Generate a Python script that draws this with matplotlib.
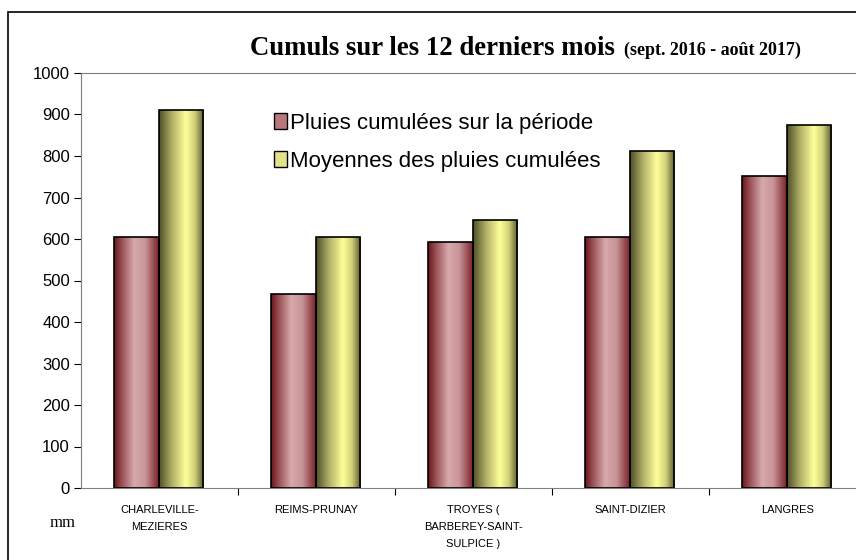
import numpy as np
import matplotlib
matplotlib.use("Agg")
import matplotlib.pyplot as plt
from matplotlib.colors import LinearSegmentedColormap
from matplotlib.patches import Patch, Rectangle

stations = ["CHARLEVILLE-\nMEZIERES", "REIMS-PRUNAY", "TROYES (\nBARBEREY-SAINT-\nSULPICE )",
            "SAINT-DIZIER", "LANGRES"]
pluies = [605, 467, 593, 605, 752]
moyennes = [910, 605, 646, 812, 875]
yticks = list(range(0, 1001, 100))

# gradient colormaps to mimic the shaded bars
red_cmap = LinearSegmentedColormap.from_list(
    "red", [(0, "#6a161b"), (0.2, "#a05a5e"), (0.45, "#d8a9ab"), (0.7, "#c89497"), (1, "#7a2227")])
yel_cmap = LinearSegmentedColormap.from_list(
    "yel", [(0, "#4f4f28"), (0.3, "#b4b46a"), (0.6, "#ffff99"), (0.8, "#d0d07a"), (1, "#5a5a2e")])


def shade(ax, bars, cmap):
    grad = np.linspace(0, 1, 128).reshape(1, -1)
    for b in bars:
        x0, y0 = b.get_x(), b.get_y()
        w, h = b.get_width(), b.get_height()
        im = ax.imshow(grad, extent=[x0, x0 + w, y0, y0 + h], aspect="auto",
                       cmap=cmap, zorder=2, interpolation="bilinear")
        im.set_clip_path(b)


fig = plt.figure(figsize=(8.56, 5.6), dpi=100)
ax = fig.add_axes([81 / 856, 1 - 488 / 560, 785 / 856, 415 / 560])

x = np.arange(len(stations))
w = 0.285
b1 = ax.bar(x - w / 2 - 0.005, pluies, w, facecolor="none", edgecolor="black", lw=1.2, zorder=3)
b2 = ax.bar(x + w / 2 - 0.005, moyennes, w, facecolor="none", edgecolor="black", lw=1.2, zorder=3)
shade(ax, b1, red_cmap)
shade(ax, b2, yel_cmap)

ax.set_xlim(-0.5, 4.5)
ax.set_ylim(0, 1000)
ax.set_yticks(yticks)
ax.set_yticklabels([str(v) for v in yticks], fontfamily="Liberation Sans", fontsize=12)
ax.tick_params(axis="y", direction="out", length=5, width=0.8, pad=3)

ax.set_xticks(x)
ax.set_xticklabels(stations, fontfamily="Liberation Sans", fontsize=8, linespacing=1.9, va="top")
ax.set_xticks(np.arange(0.5, 4.5, 1), minor=True)
ax.tick_params(axis="x", which="major", length=0, pad=12)
ax.tick_params(axis="x", which="minor", length=5, width=0.8, direction="out")

ax.spines["right"].set_visible(False)
ax.spines["top"].set_color("#808080")
ax.spines["left"].set_color("#808080")
ax.spines["bottom"].set_color("#808080")

handles = [Patch(facecolor="#b9787c", edgecolor="black", label="Pluies cumulées sur la période"),
           Patch(facecolor="#e2e28a", edgecolor="black", label="Moyennes des pluies cumulées")]
ax.legend(handles=handles, loc="upper left", bbox_to_anchor=(0.235, 0.925), frameon=False,
          prop={"family": "Liberation Sans", "size": 16}, handlelength=0.55, handleheight=0.75,
          handletextpad=0.15, labelspacing=0.75, borderaxespad=0)

fig.text(250 / 856, 1 - 55 / 560, "Cumuls sur les 12 derniers mois", fontfamily="Liberation Serif",
         fontweight="bold", fontsize=19.3, ha="left", va="baseline")
fig.text(624 / 856, 1 - 55 / 560, "(sept. 2016 - août 2017)", fontfamily="Liberation Serif",
         fontweight="bold", fontsize=13, ha="left", va="baseline")
fig.text(50 / 856, 1 - 527 / 560, "mm", fontfamily="Liberation Serif", fontsize=12,
         ha="left", va="baseline")

fig.patches.append(Rectangle((8 / 856, -0.05), 1.0, 1 - 12 / 560 + 0.05, transform=fig.transFigure,
                             fill=False, edgecolor="black", lw=1.2))

fig.savefig("out.png", dpi=100)
